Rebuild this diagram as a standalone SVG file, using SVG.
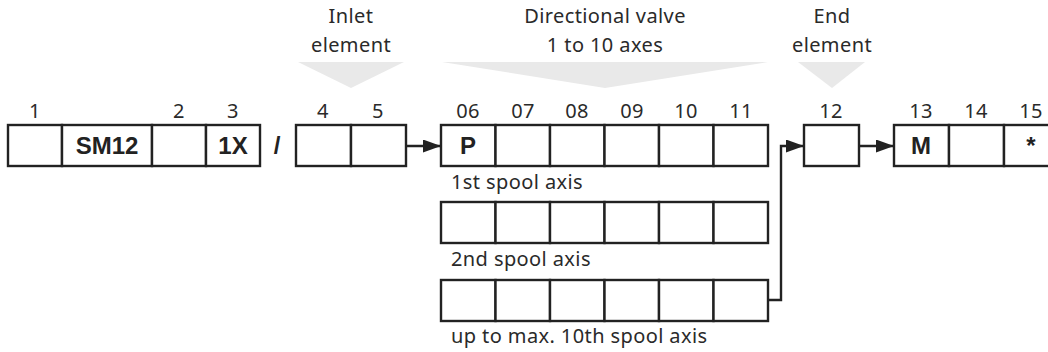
<svg xmlns="http://www.w3.org/2000/svg" width="1048" height="352" viewBox="0 0 1048 352">
  <defs>
    <marker id="arr" markerUnits="userSpaceOnUse" markerWidth="18" markerHeight="13" refX="18" refY="6.5" orient="auto">
      <path d="M0,0 L18,6.5 L0,13 Z" fill="#222"/>
    </marker>
  </defs>
  <style>
    .box { fill: #fff; stroke: #222; stroke-width: 2.4; }
    .tri { fill: #e9e9e9; stroke: none; }
    .t { font-family: "Noto Sans", "Liberation Sans", sans-serif; font-size: 20px; fill: #2a2a2a; letter-spacing: 0.4px; }
    .c { text-anchor: middle; }
    .b { font-family: "Liberation Sans", Arial, sans-serif; font-weight: bold; font-size: 24px; fill: #222; text-anchor: middle; }
    .ln { fill: none; stroke: #222; stroke-width: 2.4; }
  </style>
  <rect width="1048" height="352" fill="#fff"/>

  <g id="labels-top">
    <polygon class="tri" points="298,62 404,62 351,88"/>
    <polygon class="tri" points="442,62 768,62 605,88"/>
    <polygon class="tri" points="798,62 865,62 832,88"/>
    <text class="t c" x="351" y="23">Inlet</text>
    <text class="t c" x="351" y="52">element</text>
    <text class="t c" x="605" y="23">Directional valve</text>
    <text class="t c" x="605" y="52">1 to 10 axes</text>
    <text class="t c" x="832" y="23">End</text>
    <text class="t c" x="832" y="52">element</text>
  </g>

  <g id="head-numbers">
    <text class="t c" x="35" y="118">1</text>
    <text class="t c" x="179" y="118">2</text>
    <text class="t c" x="233" y="118">3</text>
    <text class="t c" x="323" y="118">4</text>
    <text class="t c" x="378" y="118">5</text>
    <text class="t c" x="468" y="118">06</text>
    <text class="t c" x="523" y="118">07</text>
    <text class="t c" x="577" y="118">08</text>
    <text class="t c" x="632" y="118">09</text>
    <text class="t c" x="686" y="118">10</text>
    <text class="t c" x="741" y="118">11</text>
    <text class="t c" x="831" y="118">12</text>
    <text class="t c" x="921" y="118">13</text>
    <text class="t c" x="976" y="118">14</text>
    <text class="t c" x="1031" y="118">15</text>
  </g>

  <g id="series">
    <rect class="box" x="8" y="125" width="54" height="41"/>
    <rect class="box" x="62" y="125" width="90" height="41"/>
    <rect class="box" x="152" y="125" width="54" height="41"/>
    <rect class="box" x="206" y="125" width="54" height="41"/>
    <text class="b" x="107" y="154">SM12</text>
    <text class="b" x="233" y="154">1X</text>
  </g>

  <g id="slash">
    <text class="b" x="277" y="154">/</text>
  </g>

  <g id="inlet">
    <rect class="box" x="296" y="125" width="55" height="41"/>
    <rect class="box" x="351" y="125" width="55" height="41"/>
  </g>

  <g id="axis1">
    <rect class="box" x="441" y="125" width="54.5" height="41"/>
    <rect class="box" x="495.5" y="125" width="54.5" height="41"/>
    <rect class="box" x="550" y="125" width="54.5" height="41"/>
    <rect class="box" x="604.5" y="125" width="54.5" height="41"/>
    <rect class="box" x="659" y="125" width="54.5" height="41"/>
    <rect class="box" x="713.5" y="125" width="54.5" height="41"/>
    <text class="b" x="468" y="154">P</text>
    <text class="t" x="451" y="189">1st spool axis</text>
  </g>

  <g id="axis2">
    <rect class="box" x="441" y="202" width="54.5" height="41"/>
    <rect class="box" x="495.5" y="202" width="54.5" height="41"/>
    <rect class="box" x="550" y="202" width="54.5" height="41"/>
    <rect class="box" x="604.5" y="202" width="54.5" height="41"/>
    <rect class="box" x="659" y="202" width="54.5" height="41"/>
    <rect class="box" x="713.5" y="202" width="54.5" height="41"/>
    <text class="t" x="451" y="266">2nd spool axis</text>
  </g>

  <g id="axis10">
    <rect class="box" x="441" y="280" width="54.5" height="41"/>
    <rect class="box" x="495.5" y="280" width="54.5" height="41"/>
    <rect class="box" x="550" y="280" width="54.5" height="41"/>
    <rect class="box" x="604.5" y="280" width="54.5" height="41"/>
    <rect class="box" x="659" y="280" width="54.5" height="41"/>
    <rect class="box" x="713.5" y="280" width="54.5" height="41"/>
    <text class="t" x="451" y="343">up to max. 10th spool axis</text>
  </g>

  <g id="end">
    <rect class="box" x="804" y="125" width="55" height="41"/>
  </g>

  <g id="tail">
    <rect class="box" x="894" y="125" width="55" height="41"/>
    <rect class="box" x="949" y="125" width="55" height="41"/>
    <rect class="box" x="1004" y="125" width="55" height="41"/>
    <text class="b" x="921" y="154">M</text>
    <text class="b" x="1031" y="154">*</text>
  </g>

  <g id="connectors">
    <path class="ln" d="M406,146 L441,146" marker-end="url(#arr)"/>
    <path class="ln" d="M768,300 L781,300 L781,146 L804,146" marker-end="url(#arr)"/>
    <path class="ln" d="M859,146 L894,146" marker-end="url(#arr)"/>
  </g>
</svg>
